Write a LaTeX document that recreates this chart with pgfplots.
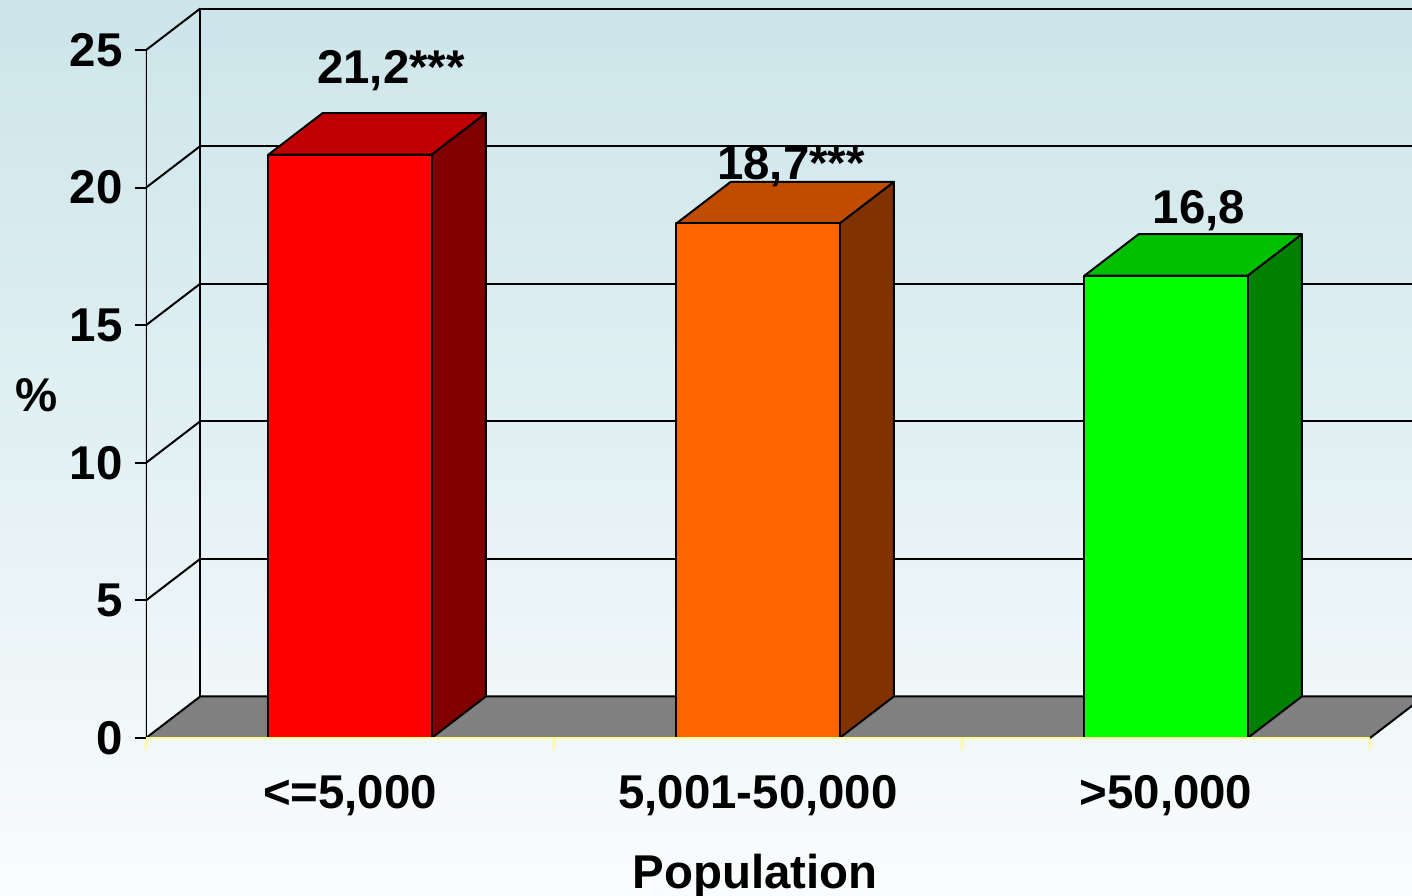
\documentclass[border=0pt]{standalone}
\usepackage{pgfplots}
\pgfplotsset{compat=1.18}
\usepackage{fontspec}
\setmainfont{Liberation Sans}
\definecolor{bgtop}{RGB}{204,229,234}
\definecolor{bgbot}{RGB}{250,252,253}
\definecolor{flr}{RGB}{128,128,128}
\definecolor{ylw}{RGB}{255,255,140}
\definecolor{rF}{RGB}{255,0,0}\definecolor{rT}{RGB}{192,0,0}\definecolor{rS}{RGB}{128,0,0}
\definecolor{oF}{RGB}{255,102,0}\definecolor{oT}{RGB}{192,76,0}\definecolor{oS}{RGB}{128,51,0}
\definecolor{gF}{RGB}{0,255,0}\definecolor{gT}{RGB}{0,192,0}\definecolor{gS}{RGB}{0,128,0}
\newcommand{\lf}{\fontsize{23.7pt}{28pt}\selectfont\bfseries}
\begin{document}
\begin{tikzpicture}
\fill[top color=bgtop, bottom color=bgbot] (-73pt,-78.5pt) rectangle (633pt,369pt);
\begin{axis}[
  at={(0,0)}, anchor=south west, scale only axis,
  width=633pt, height=369pt,
  xmin=0, xmax=3.103, ymin=0, ymax=26.82,
  axis lines*=left,
  axis line style={draw=none},
  xtick={0.5,1.5,2.5},
  xticklabels={{<=5,000},{5,001-50,000},{>50,000}},
  minor xtick={0,1,2,3},
  ytick={0,5,10,15,20,25},
  yticklabels={0,5,10,15,20,25},
  tick align=outside,
  major tick length=5.5pt, minor tick length=6pt,
  major x tick style={draw=none},
  minor x tick style={draw=ylw, line width=1pt},
  ytick style={draw=black, line width=1pt},
  tick label style={font=\lf},
  yticklabel style={anchor=east, inner sep=0pt, xshift=-6pt},
  xticklabel style={anchor=base, inner sep=0pt, yshift=-29.5pt},
  xlabel={Population}, ylabel={\%},
  label style={font=\lf},
  xlabel style={at={(axis description cs:0.481,-0.2033)}, anchor=base, inner sep=0pt},
  ylabel style={at={(axis description cs:-0.0861,0.4648)}, anchor=center, rotate=-90, inner sep=0pt},
  every axis plot/.append style={line width=1pt, line join=round},
]
% back wall and grid
\addplot[black] coordinates {(0.133,1.51) (0.133,26.51)};
\addplot[black] coordinates {(0.133,6.51) (3.2,6.51)};
\addplot[black] coordinates {(0.133,11.51) (3.2,11.51)};
\addplot[black] coordinates {(0.133,16.51) (3.2,16.51)};
\addplot[black] coordinates {(0.133,21.51) (3.2,21.51)};
\addplot[black] coordinates {(0.133,26.51) (3.2,26.51)};
% left wall
\addplot[black] coordinates {(0,0) (0,25)};
\addplot[black] coordinates {(0,5) (0.133,6.51)};
\addplot[black] coordinates {(0,10) (0.133,11.51)};
\addplot[black] coordinates {(0,15) (0.133,16.51)};
\addplot[black] coordinates {(0,20) (0.133,21.51)};
\addplot[black] coordinates {(0,25) (0.133,26.51)};
% floor
\addplot[fill=flr, draw=none] coordinates {(0,0) (3,0) (3.133,1.51) (0.133,1.51)} -- cycle;
\addplot[black] coordinates {(0,0) (0.133,1.51) (3.2,1.51)};
\addplot[black] coordinates {(3,0) (3.133,1.51)};
% bar 1: 21.2
\addplot[fill=rS, draw=black] coordinates {(0.7,0) (0.833,1.51) (0.833,22.71) (0.7,21.2)} -- cycle;
\addplot[fill=rT, draw=black] coordinates {(0.3,21.2) (0.7,21.2) (0.833,22.71) (0.433,22.71)} -- cycle;
\addplot[fill=rF, draw=black] coordinates {(0.3,0) (0.7,0) (0.7,21.2) (0.3,21.2)} -- cycle;
% bar 2: 18.7
\addplot[fill=oS, draw=black] coordinates {(1.7,0) (1.833,1.51) (1.833,20.21) (1.7,18.7)} -- cycle;
\addplot[fill=oT, draw=black] coordinates {(1.3,18.7) (1.7,18.7) (1.833,20.21) (1.433,20.21)} -- cycle;
\addplot[fill=oF, draw=black] coordinates {(1.3,0) (1.7,0) (1.7,18.7) (1.3,18.7)} -- cycle;
% bar 3: 16.8
\addplot[fill=gS, draw=black] coordinates {(2.7,0) (2.833,1.51) (2.833,18.31) (2.7,16.8)} -- cycle;
\addplot[fill=gT, draw=black] coordinates {(2.3,16.8) (2.7,16.8) (2.833,18.31) (2.433,18.31)} -- cycle;
\addplot[fill=gF, draw=black] coordinates {(2.3,0) (2.7,0) (2.7,16.8) (2.3,16.8)} -- cycle;
% front floor edge
\addplot[ylw] coordinates {(0,0) (3,0)};
% value labels
\node[anchor=base, font=\lf, inner sep=0pt] at (axis cs:0.6005,23.80) {21,2***};
\node[anchor=base, font=\lf, inner sep=0pt] at (axis cs:1.581,20.28) {18,7***};
\node[anchor=base, font=\lf, inner sep=0pt] at (axis cs:2.581,18.71) {16,8};
\end{axis}
\pgfresetboundingbox
\path[use as bounding box] (-73pt,-78.5pt) rectangle (633pt,369pt);
\end{tikzpicture}
\end{document}
